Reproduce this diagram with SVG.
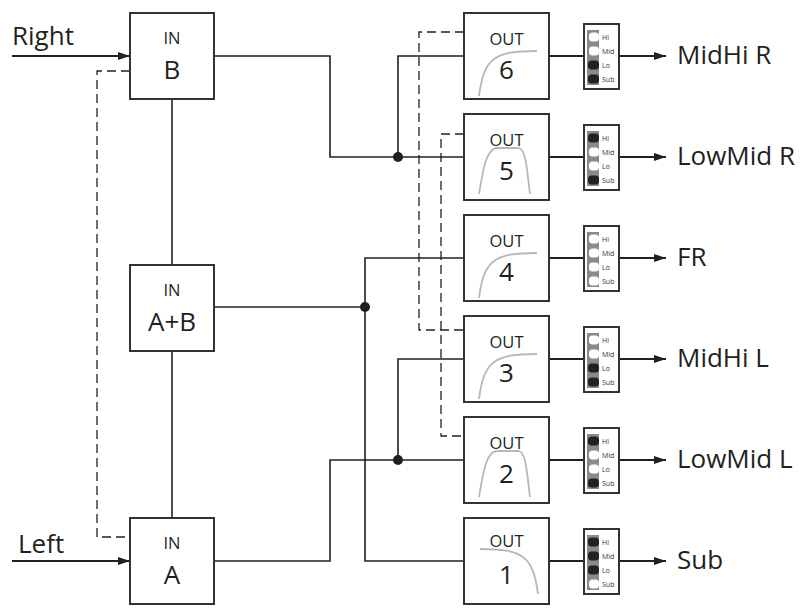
<svg xmlns="http://www.w3.org/2000/svg" xmlns:xlink="http://www.w3.org/1999/xlink" width="803" height="612" viewBox="0 0 803 612">
<style>
  .box{fill:#fff;stroke:#333;stroke-width:2}
  .wire{fill:none;stroke:#231f20;stroke-width:1.6}
  .thick{fill:none;stroke:#231f20;stroke-width:2}
  .dash{fill:none;stroke:#231f20;stroke-width:1.3;stroke-dasharray:9 5}
  .dot{fill:#231f20}
  .curve{fill:none;stroke:#b8b8b8;stroke-width:1.8}
  .t{font-family:"Open Sans","Liberation Sans",sans-serif;fill:#231f20}
  .big{font-size:26px}
  .small{font-size:16.5px}
  .mid{text-anchor:middle}
  .sw{font-family:"Open Sans","Liberation Sans",sans-serif;font-size:7px;fill:#333}
  .frame{fill:#fff;stroke:#333;stroke-width:2}
  .bar{fill:#8a8a8a}
  .on{fill:#222}
  .off{fill:#fff}
</style>
<defs>
  <marker id="arr" viewBox="0 0 12 8" refX="12" refY="4" markerWidth="12" markerHeight="8" markerUnits="userSpaceOnUse" orient="auto">
    <path d="M0,0 L12,4 L0,8 Z" fill="#231f20"/>
  </marker>
  <g id="swframe">
    <rect class="frame" x="0" y="0" width="35" height="65"/>
    <rect class="bar" x="3" y="6" width="12" height="55"/>
    <text class="sw" x="18" y="15.5">Hi</text>
    <text class="sw" x="18" y="29.5">Mid</text>
    <text class="sw" x="18" y="43.5">Lo</text>
    <text class="sw" x="18" y="57.5">Sub</text>
  </g>
  <path id="hp" class="curve" d="M15,83 C20,45 30,38 73,38"/>
  <path id="bp" class="curve" d="M15,80 C19,56 22,36 32,34 L55,34 C62,36 63,56 66,80"/>
  <path id="lp" class="curve" d="M16,31 C59,31 69,38 74,76"/>
</defs>

<g id="connectors">
  <!-- inputs -->
  <line class="thick" x1="12" y1="56" x2="130" y2="56" marker-end="url(#arr)"/>
  <line class="thick" x1="12" y1="561" x2="130" y2="561" marker-end="url(#arr)"/>
  <!-- IN chain -->
  <line class="wire" x1="172" y1="99" x2="172" y2="265"/>
  <line class="wire" x1="172" y1="351" x2="172" y2="518"/>
  <!-- right path -->
  <polyline class="wire" points="214,56 330,56 330,157 464,157"/>
  <polyline class="wire" points="398,157 398,56 464,56"/>
  <circle class="dot" cx="398" cy="157" r="5"/>
  <!-- left path -->
  <polyline class="wire" points="214,561 330,561 330,460 464,460"/>
  <polyline class="wire" points="398,460 398,359 464,359"/>
  <circle class="dot" cx="398" cy="460" r="5"/>
  <!-- A+B path -->
  <line class="wire" x1="214" y1="307" x2="365" y2="307"/>
  <polyline class="wire" points="464,258 365,258 365,561 464,561"/>
  <circle class="dot" cx="365" cy="307" r="5"/>
  <!-- dashed links -->
  <polyline class="dash" points="130,71 97,71 97,537 130,537"/>
  <polyline class="dash" points="464,32 419,32 419,330 464,330"/>
  <polyline class="dash" points="464,134 441,134 441,436 464,436"/>
  <!-- outputs -->
  <g>
    <line class="thick" x1="549" y1="56" x2="584" y2="56"/>
    <line class="thick" x1="619" y1="56" x2="666" y2="56" marker-end="url(#arr)"/>
    <line class="thick" x1="549" y1="157" x2="584" y2="157"/>
    <line class="thick" x1="619" y1="157" x2="666" y2="157" marker-end="url(#arr)"/>
    <line class="thick" x1="549" y1="258" x2="584" y2="258"/>
    <line class="thick" x1="619" y1="258" x2="666" y2="258" marker-end="url(#arr)"/>
    <line class="thick" x1="549" y1="359" x2="584" y2="359"/>
    <line class="thick" x1="619" y1="359" x2="666" y2="359" marker-end="url(#arr)"/>
    <line class="thick" x1="549" y1="460" x2="584" y2="460"/>
    <line class="thick" x1="619" y1="460" x2="666" y2="460" marker-end="url(#arr)"/>
    <line class="thick" x1="549" y1="561" x2="584" y2="561"/>
    <line class="thick" x1="619" y1="561" x2="666" y2="561" marker-end="url(#arr)"/>
  </g>
</g>

<g id="label-right"><text class="t big" x="12" y="45">Right</text></g>
<g id="label-left"><text class="t big" x="18" y="553">Left</text></g>

<g id="in-b">
  <rect class="box" x="130" y="13" width="84" height="86"/>
  <text class="t small mid" x="172" y="44">IN</text>
  <text class="t big mid" x="172" y="79">B</text>
</g>
<g id="in-ab">
  <rect class="box" x="130" y="265" width="84" height="86"/>
  <text class="t small mid" x="172" y="296">IN</text>
  <text class="t big mid" x="172" y="331">A+B</text>
</g>
<g id="in-a">
  <rect class="box" x="130" y="518" width="84" height="86"/>
  <text class="t small mid" x="172" y="549">IN</text>
  <text class="t big mid" x="172" y="584">A</text>
</g>

<g id="out6" transform="translate(464,13)">
  <rect class="box" x="0" y="0" width="85" height="86"/>
  <use xlink:href="#hp"/>
  <text class="t small mid" x="42.5" y="32">OUT</text>
  <text class="t big mid" x="42.5" y="66">6</text>
  <g transform="translate(120,11)">
    <use xlink:href="#swframe"/>
    <rect class="off" x="5" y="8.5" width="10" height="9" rx="3.5"/>
    <rect class="off" x="5" y="22.5" width="10" height="9" rx="3.5"/>
    <rect class="on" x="4" y="36.5" width="11" height="9" rx="3.5"/>
    <rect class="on" x="4" y="50.5" width="11" height="9" rx="3.5"/>
  </g>
</g>
<g id="out5" transform="translate(464,114)">
  <rect class="box" x="0" y="0" width="85" height="86"/>
  <use xlink:href="#bp"/>
  <text class="t small mid" x="42.5" y="32">OUT</text>
  <text class="t big mid" x="42.5" y="66">5</text>
  <g transform="translate(120,11)">
    <use xlink:href="#swframe"/>
    <rect class="on" x="4" y="8.5" width="11" height="9" rx="3.5"/>
    <rect class="off" x="5" y="22.5" width="10" height="9" rx="3.5"/>
    <rect class="off" x="5" y="36.5" width="10" height="9" rx="3.5"/>
    <rect class="on" x="4" y="50.5" width="11" height="9" rx="3.5"/>
  </g>
</g>
<g id="out4" transform="translate(464,215)">
  <rect class="box" x="0" y="0" width="85" height="86"/>
  <use xlink:href="#hp"/>
  <text class="t small mid" x="42.5" y="32">OUT</text>
  <text class="t big mid" x="42.5" y="66">4</text>
  <g transform="translate(120,11)">
    <use xlink:href="#swframe"/>
    <rect class="off" x="5" y="8.5" width="10" height="9" rx="3.5"/>
    <rect class="off" x="5" y="22.5" width="10" height="9" rx="3.5"/>
    <rect class="off" x="5" y="36.5" width="10" height="9" rx="3.5"/>
    <rect class="off" x="5" y="50.5" width="10" height="9" rx="3.5"/>
  </g>
</g>
<g id="out3" transform="translate(464,316)">
  <rect class="box" x="0" y="0" width="85" height="86"/>
  <use xlink:href="#hp"/>
  <text class="t small mid" x="42.5" y="32">OUT</text>
  <text class="t big mid" x="42.5" y="66">3</text>
  <g transform="translate(120,11)">
    <use xlink:href="#swframe"/>
    <rect class="off" x="5" y="8.5" width="10" height="9" rx="3.5"/>
    <rect class="off" x="5" y="22.5" width="10" height="9" rx="3.5"/>
    <rect class="on" x="4" y="36.5" width="11" height="9" rx="3.5"/>
    <rect class="on" x="4" y="50.5" width="11" height="9" rx="3.5"/>
  </g>
</g>
<g id="out2" transform="translate(464,417)">
  <rect class="box" x="0" y="0" width="85" height="86"/>
  <use xlink:href="#bp"/>
  <text class="t small mid" x="42.5" y="32">OUT</text>
  <text class="t big mid" x="42.5" y="66">2</text>
  <g transform="translate(120,11)">
    <use xlink:href="#swframe"/>
    <rect class="on" x="4" y="8.5" width="11" height="9" rx="3.5"/>
    <rect class="off" x="5" y="22.5" width="10" height="9" rx="3.5"/>
    <rect class="off" x="5" y="36.5" width="10" height="9" rx="3.5"/>
    <rect class="on" x="4" y="50.5" width="11" height="9" rx="3.5"/>
  </g>
</g>
<g id="out1" transform="translate(464,518)">
  <rect class="box" x="0" y="0" width="85" height="86"/>
  <use xlink:href="#lp"/>
  <text class="t small mid" x="42.5" y="29">OUT</text>
  <text class="t big mid" x="42.5" y="66">1</text>
  <g transform="translate(120,11)">
    <use xlink:href="#swframe"/>
    <rect class="on" x="4" y="8.5" width="11" height="9" rx="3.5"/>
    <rect class="on" x="4" y="22.5" width="11" height="9" rx="3.5"/>
    <rect class="on" x="4" y="36.5" width="11" height="9" rx="3.5"/>
    <rect class="off" x="5" y="50.5" width="10" height="9" rx="3.5"/>
  </g>
</g>

<g id="outputs">
  <text class="t big" x="677" y="64">MidHi R</text>
  <text class="t big" x="677" y="165">LowMid R</text>
  <text class="t big" x="677" y="266">FR</text>
  <text class="t big" x="677" y="367">MidHi L</text>
  <text class="t big" x="677" y="468">LowMid L</text>
  <text class="t big" x="677" y="569">Sub</text>
</g>
</svg>
